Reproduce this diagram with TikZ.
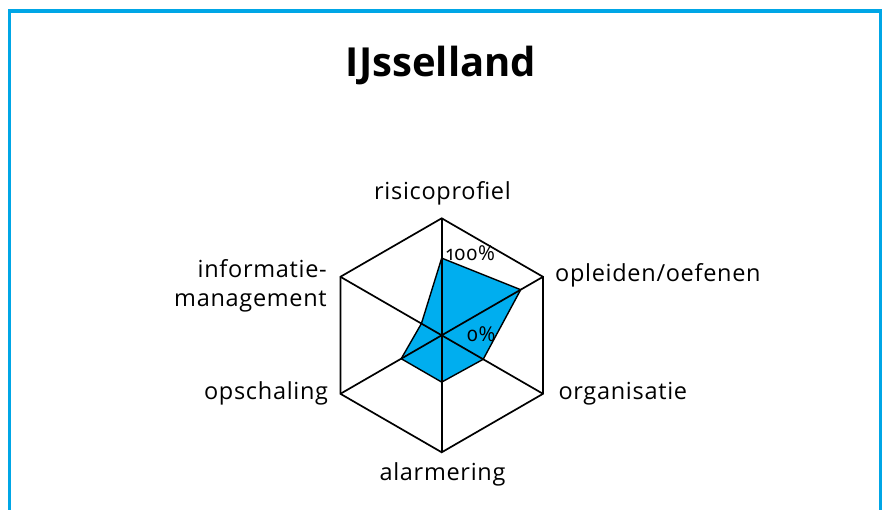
\documentclass[tikz,border=0pt]{standalone}
\usepackage{fontspec}
\setmainfont{Open Sans}[Numbers=OldStyle]
\definecolor{frameblue}{RGB}{0,166,230}
\definecolor{fillblue}{RGB}{0,174,239}
\begin{document}
\begin{tikzpicture}[x=1pt,y=-1pt,
  axisline/.style={black,line width=1.7pt},
  hexline/.style={black,line width=1.7pt,line join=miter},
  datapoly/.style={fill=fillblue,draw=black,line width=1.4pt,line join=miter},
  lbl/.style={inner sep=0pt,font=\fontsize{23.5}{28}\selectfont\addfontfeature{LetterSpace=3}},
  pct/.style={inner sep=0pt,font=\fontsize{20.5}{24}\selectfont\addfontfeature{LetterSpace=2}},
  titlestyle/.style={inner sep=0pt,font=\fontsize{40}{48}\selectfont\bfseries}]
\useasboundingbox (0,0) rectangle (883,510);
\fill[white] (0,0) rectangle (883,510);
% frame
\draw[frameblue,line width=3.3pt] (9.5,520) -- (9.5,11) -- (880.5,11) -- (880.5,520);
% title
\node[titlestyle,anchor=base] (title) at (441,76.7) {IJsselland};
% hexagon vertices
\coordinate (C) at (441.7,335.3);
\coordinate (vT) at (441.7,218.3);
\coordinate (vUR) at (543,276.8);
\coordinate (vLR) at (543,393.8);
\coordinate (vB) at (441.7,452.3);
\coordinate (vLL) at (340.4,393.8);
\coordinate (vUL) at (340.4,276.8);
% data points
\coordinate (dT) at (441.7,258.1);
\coordinate (dUR) at (520.7,289.7);
\coordinate (dLR) at (483.2,359.3);
\coordinate (dB) at (441.7,382.1);
\coordinate (dLL) at (401.2,358.7);
\coordinate (dUL) at (421.4,323.6);
\filldraw[datapoly] (dT) -- (dUR) -- (dLR) -- (dB) -- (dLL) -- (dUL) -- cycle;
\draw[hexline] (vT) -- (vUR) -- (vLR) -- (vB) -- (vLL) -- (vUL) -- cycle;
\draw[axisline] (vT) -- (vB);
\draw[axisline] (vUR) -- (vLL);
\draw[axisline] (vLR) -- (vUL);
% percentages
\node[pct,anchor=base west] (p100) at (446,261) {100\%};
\node[pct,anchor=base west] (p0) at (466.5,341.5) {0\%};
% labels
\node[lbl,anchor=base] (risico) at (442.5,199.3) {risicoprofiel};
\node[lbl,anchor=base east] (info1) at (327,278) {informatie-};
\node[lbl,anchor=base east] (info2) at (327,306.7) {management};
\node[lbl,anchor=base west] (opleiden) at (555,281.7) {opleiden/oefenen};
\node[lbl,anchor=base east] (opschaling) at (328.3,399) {opschaling};
\node[lbl,anchor=base west] (organisatie) at (558.3,399) {organisatie};
\node[lbl,anchor=base] (alarmering) at (442.5,480) {alarmering};
\end{tikzpicture}
\end{document}
